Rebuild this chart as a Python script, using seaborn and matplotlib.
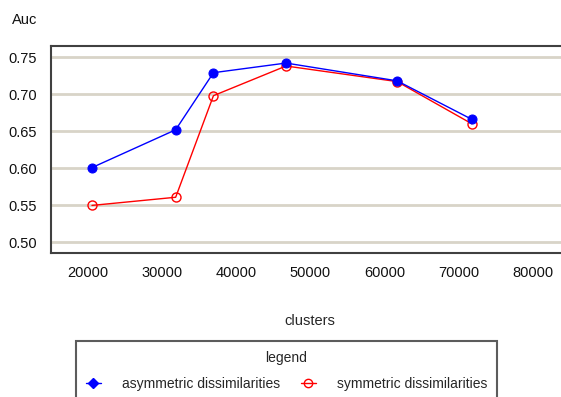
import matplotlib
matplotlib.use("Agg")
import matplotlib.pyplot as plt
from matplotlib.lines import Line2D
import numpy as np
import pandas as pd
import seaborn as sns

# valores
clusters = [20500, 31800, 36900, 46700, 61700, 71800]
asym = [0.601, 0.652, 0.729, 0.742, 0.718, 0.666]
sym = [0.550, 0.561, 0.698, 0.738, 0.717, 0.660]
nombres = ["asymmetric dissimilarities", "symmetric dissimilarities"]

df = pd.DataFrame({"clusters": clusters * 2,
                   "Auc": asym + sym,
                   "serie": [nombres[0]] * len(clusters) + [nombres[1]] * len(clusters)})

sns.set_style("white")
plt.rcParams["font.family"] = ["Liberation Sans", "DejaVu Sans"]
plt.rcParams["font.size"] = 10.5

fig = plt.figure(figsize=(5.61, 3.97), dpi=100)
ax = fig.add_axes([50.7 / 561, 1 - 252.5 / 397, 1 - 50.7 / 561, (252.5 - 46) / 397])

sns.lineplot(data=df[df.serie == nombres[1]], x="clusters", y="Auc", ax=ax,
             color="#ff0000", marker="o", markersize=6.5, markerfacecolor="none",
             markeredgecolor="#ff0000", markeredgewidth=1, linewidth=1, legend=False)
sns.lineplot(data=df[df.serie == nombres[0]], x="clusters", y="Auc", ax=ax,
             color="#0000ff", marker="o", markersize=6.5, markeredgecolor="#0000ff",
             linewidth=1, legend=False)

ax.set_xlim(14930, 83820)
ax.set_ylim(0.4865, 0.765)
ax.set_xticks([20000, 30000, 40000, 50000, 60000, 70000, 80000])
ax.set_yticks([0.50, 0.55, 0.60, 0.65, 0.70, 0.75])
ax.set_yticklabels(["0.50", "0.55", "0.60", "0.65", "0.70", "0.75"])
ax.yaxis.grid(True, color="#d8d4c8", linewidth=2)
ax.set_axisbelow(True)
for s in ["left", "bottom", "top"]:
    ax.spines[s].set_color("#404040")
    ax.spines[s].set_linewidth(1.5)
ax.spines["right"].set_visible(False)
ax.tick_params(axis="both", direction="out", length=5, width=1.2, color="#404040",
               labelcolor="#111111", pad=5)
ax.set_ylabel("")
ax.set_xlabel("clusters", labelpad=0)
ax.xaxis.set_label_coords((310 - 50.7) / (561 - 50.7), -0.3)
fig.text(12 / 561, 1 - 20 / 397, "Auc", ha="left", va="center", color="#111111")

# leyenda
h = [Line2D([], [], color="#0000ff", marker="D", markersize=5, linewidth=1),
     Line2D([], [], color="#ff0000", marker="o", markersize=6, markerfacecolor="none",
            linewidth=1)]
leg = fig.legend(h, nombres, title="legend", ncol=2, loc="upper left",
                 bbox_to_anchor=(76 / 561, 1 - 341 / 397), borderaxespad=0,
                 frameon=True, fancybox=False, edgecolor="#333333",
                 handlelength=1.1, handletextpad=1.5, columnspacing=1.5,
                 borderpad=0.7, labelspacing=0.9, fontsize=10, title_fontsize=10)
leg.get_frame().set_linewidth(1.5)

plt.savefig("out.png", dpi=100)
